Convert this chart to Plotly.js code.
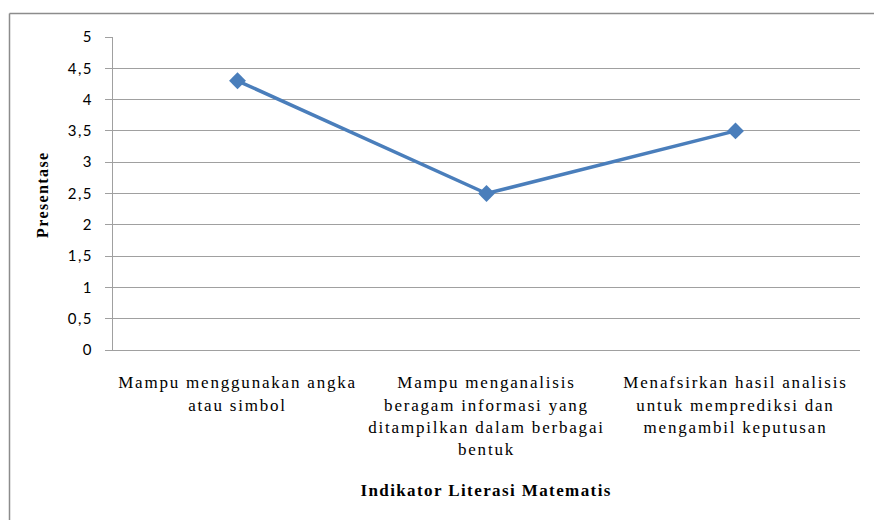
<!DOCTYPE html>
<html>
<head>
<meta charset="utf-8">
<script src="https://cdn.plot.ly/plotly-3.0.1.min.js"></script>
<style>
  html, body { margin: 0; padding: 0; background: #ffffff; }
  #chart { width: 874px; height: 520px; }
  /* wide, airy lettering for the labels */
  #chart .xtick text { letter-spacing: 1.8px; }
  #chart .ytick text { letter-spacing: 1.5px; }
  #chart .annotation-text { letter-spacing: 1.4px; }
</style>
</head>
<body>
<div id="chart"></div>
<script>
// Indicator categories (x axis) and their scores
const indikator = [
  'Mampu menggunakan angka<br>atau simbol',
  'Mampu menganalisis<br>beragam informasi yang<br>ditampilkan dalam berbagai<br>bentuk',
  'Menafsirkan hasil analisis<br>untuk memprediksi dan<br>mengambil keputusan'
];
const presentase = [4.3, 2.5, 3.5];

const yTickVals = [0, 0.5, 1, 1.5, 2, 2.5, 3, 3.5, 4, 4.5, 5];
const yTickText = ['0', '0,5', '1', '1,5', '2', '2,5', '3', '3,5', '4', '4,5', '5'];

const yTitle = 'Presentase';
const xTitle = 'Indikator Literasi Matematis';

const serif = '"Liberation Serif", "Times New Roman", serif';
const sans = 'Lato, "Open Sans", sans-serif';
const gridGray = '#a0a0a0';

const trace = {
  type: 'scatter',
  mode: 'lines+markers',
  x: [0, 1, 2],
  y: presentase,
  line: { color: '#4a7ebb', width: 3.5 },
  marker: { symbol: 'diamond', size: 13, color: '#4a7ebb' },
  hoverinfo: 'skip'
};

const layout = {
  width: 874,
  height: 520,
  margin: { l: 113, r: 14, t: 37, b: 170 },
  paper_bgcolor: '#ffffff',
  plot_bgcolor: '#ffffff',
  showlegend: false,
  xaxis: {
    range: [-0.5, 2.5],
    tickvals: [0, 1, 2],
    ticktext: indikator,
    showgrid: false,
    zeroline: false,
    showline: true,
    linecolor: gridGray,
    linewidth: 1,
    ticks: '',
    ticklabelstandoff: 17,
    tickfont: { family: serif, size: 17, color: '#000000' },
    fixedrange: true
  },
  yaxis: {
    range: [0, 5],
    tickvals: yTickVals,
    ticktext: yTickText,
    showgrid: true,
    gridcolor: gridGray,
    gridwidth: 1,
    zeroline: false,
    showline: true,
    linecolor: gridGray,
    linewidth: 1,
    ticks: 'outside',
    ticklen: 7,
    tickcolor: gridGray,
    ticklabelstandoff: 9,
    tickfont: { family: sans, size: 15, color: '#000000' },
    fixedrange: true
  },
  annotations: [
    {
      text: '<b>' + yTitle + '</b>',
      xref: 'paper', yref: 'paper',
      x: (42 - 113) / 747, y: (350 - 195) / 313,
      xanchor: 'center', yanchor: 'middle',
      textangle: -90,
      showarrow: false,
      font: { family: serif, size: 16, color: '#000000' }
    },
    {
      text: '<b>' + xTitle + '</b>',
      xref: 'paper', yref: 'paper',
      x: (486 - 113) / 747, y: (350 - 490) / 313,
      xanchor: 'center', yanchor: 'middle',
      showarrow: false,
      font: { family: serif, size: 17, color: '#000000' }
    }
  ],
  shapes: [
    // frame around the chart area (left and top edges)
    { type: 'line', xref: 'paper', yref: 'paper',
      x0: (9.5 - 113) / 747, x1: (9.5 - 113) / 747,
      y0: (350 - 13.5) / 313, y1: (350 - 525) / 313,
      line: { color: '#8c8c8c', width: 1.5 } },
    { type: 'line', xref: 'paper', yref: 'paper',
      x0: (9.5 - 113) / 747, x1: (880 - 113) / 747,
      y0: (350 - 13.5) / 313, y1: (350 - 13.5) / 313,
      line: { color: '#8c8c8c', width: 1.5 } }
  ]
};

Plotly.newPlot('chart', [trace], layout, { staticPlot: true, displayModeBar: false });
</script>
</body>
</html>
